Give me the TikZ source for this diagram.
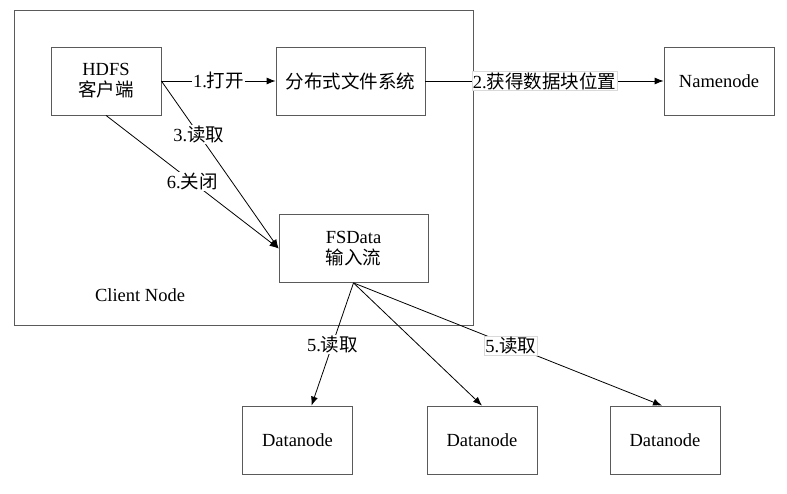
\documentclass[tikz,border=0pt]{standalone}
\usepackage{fontspec}
\setmainfont{Liberation Serif}
\newfontfamily\cjk{Noto Sans CJK SC}
\usepackage{tikz}
\usetikzlibrary{arrows.meta,positioning,calc}
\definecolor{edge}{HTML}{5A5A5A}
\newcommand{\zh}[1]{{\cjk #1}}

\begin{document}
\begin{tikzpicture}[x=1pt,y=-1pt,font=\fontsize{18.5}{21}\selectfont,
    box/.style={draw=edge,line width=0.8pt,minimum width=110pt,minimum height=68pt,align=center},
    wide/.style={box,minimum width=149pt},
    flow/.style={-{Latex[length=9pt,width=7pt]},line width=0.8pt},
    tag/.style={fill=white,inner sep=1pt},
    tagb/.style={tag,draw=black!15,line width=0.4pt}]
  \useasboundingbox (0,0) rectangle (787,494);

  % client frame
  \draw[draw=edge,line width=0.8pt] (14,10) rectangle (473,325);
  \node (cname) at (140,295) {Client Node};

  % nodes
  \node[box]  (hdfs)  at (106,81)  {HDFS\\\zh{客户端}};
  \node[wide] (dfs)   at (350.5,81) {\zh{分布式文件系统}};
  \node[box]  (nn)    at (719,81)  {Namenode};
  \node[wide] (fsin)  at (353.5,248.5) {FSData\\\zh{输入流}};
  \node[box]  (dn1)   at (297.5,440) {Datanode};
  \node[box]  (dn2)   at (482,440) {Datanode};
  \node[box]  (dn3)   at (665,440) {Datanode};

  % connectors
  \draw[flow] (hdfs.east) -- node[tag] {1.\zh{打开}} (dfs);
  \draw[flow] (dfs) -- node[tagb,pos=0.5] {2.\zh{获得数据块位置}} (nn);
  \draw[flow] (hdfs.east) -- node[tag,pos=0.32] {3.\zh{读取}} (fsin.west);
  \draw[flow] (hdfs.south) -- node[tag,pos=0.5] {6.\zh{关闭}} (fsin.west);
  \draw[flow] (fsin.south) -- node[tag] {5.\zh{读取}} ([xshift=14pt]dn1.north);
  \draw[flow] (fsin.south) -- (dn2.north);
  \draw[flow] (fsin.south) -- node[tagb,pos=0.51] {5.\zh{读取}} ([xshift=-3pt]dn3.north);
\end{tikzpicture}
\end{document}
